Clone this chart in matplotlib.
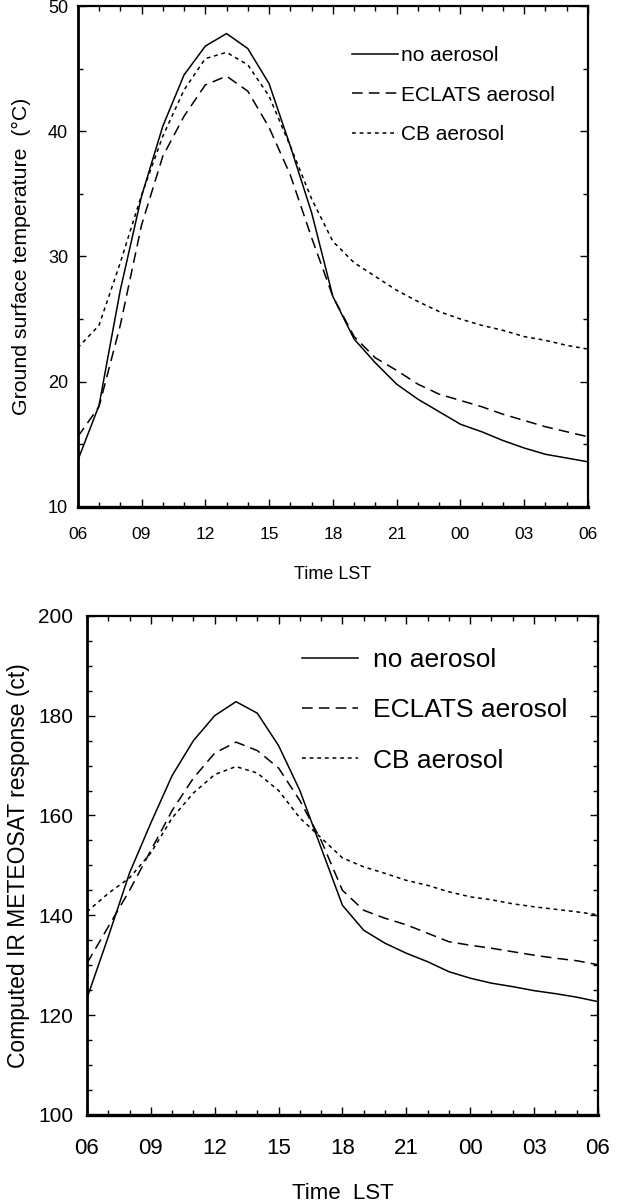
import matplotlib
matplotlib.use("Agg")
import matplotlib.pyplot as plt
from matplotlib.ticker import MultipleLocator, FixedLocator

# ---- data ----
hours = list(range(0, 25))  # hours since 06 LST
xtick_pos = [0, 3, 6, 9, 12, 15, 18, 21, 24]
xtick_labels = ["06", "09", "12", "15", "18", "21", "00", "03", "06"]
series_names = ["no aerosol", "ECLATS aerosol", "CB aerosol"]

tg_no = [13.7, 18.1, 27.3, 34.8, 40.4, 44.5, 46.8, 47.8, 46.6, 43.8, 38.8, 33.5, 26.8,
         23.4, 21.5, 19.8, 18.6, 17.6, 16.6, 16.0, 15.3, 14.7, 14.2, 13.9, 13.6]
tg_eclats = [15.6, 18.0, 24.5, 32.5, 38.0, 41.2, 43.7, 44.4, 43.2, 40.3, 36.5, 31.5, 26.8,
             23.6, 21.9, 20.9, 19.8, 19.0, 18.5, 18.0, 17.4, 16.9, 16.4, 16.0, 15.6]
tg_cb = [22.7, 24.5, 29.5, 34.9, 39.6, 43.3, 45.8, 46.3, 45.3, 42.8, 38.8, 34.6, 31.2,
         29.5, 28.4, 27.3, 26.4, 25.6, 25.0, 24.5, 24.1, 23.6, 23.3, 22.9, 22.6]

ir_no = [123.4, 135.7, 148.5, 158.5, 168.0, 175.0, 180.0, 182.8, 180.5, 174.0, 165.0, 153.5, 142.0,
         137.0, 134.4, 132.4, 130.7, 128.7, 127.4, 126.4, 125.7, 124.9, 124.3, 123.6, 122.7]
ir_eclats = [130.4, 137.7, 145.0, 153.0, 161.0, 167.5, 172.5, 174.7, 173.0, 169.5, 163.0, 155.0, 145.0,
             141.0, 139.4, 138.1, 136.4, 134.7, 134.0, 133.4, 132.7, 132.0, 131.4, 130.9, 130.1]
ir_cb = [140.7, 144.4, 147.5, 152.5, 159.5, 164.5, 168.2, 169.8, 168.5, 165.0, 159.5, 155.5, 151.5,
         149.7, 148.4, 147.0, 146.0, 144.7, 143.7, 143.1, 142.3, 141.7, 141.2, 140.7, 140.1]

FONT = ["Liberation Sans", "DejaVu Sans"]
plt.rcParams["font.family"] = FONT

styles = [dict(ls="-"), dict(ls=(0, (7, 4))), dict(ls=(0, (2.5, 2.5)))]

fig = plt.figure(figsize=(6.17, 12.04), dpi=100)

def style_axes(ax, ymaj, ymin, xt_size, yt_size):
    ax.set_xlim(0, 24)
    ax.xaxis.set_major_locator(FixedLocator(xtick_pos))
    ax.set_xticklabels(xtick_labels, fontsize=xt_size)
    ax.xaxis.set_minor_locator(MultipleLocator(1))
    ax.yaxis.set_major_locator(MultipleLocator(ymaj))
    ax.yaxis.set_minor_locator(MultipleLocator(ymin))
    for lbl in ax.get_yticklabels():
        lbl.set_fontsize(yt_size)
    ax.tick_params(which="both", direction="in", top=True, right=True, width=1.0)
    ax.tick_params(which="major", length=6)
    ax.tick_params(which="minor", length=3.5)
    for s in ax.spines.values():
        s.set_linewidth(1.6)
    ax.spines["bottom"].set_linewidth(2.4)
    ax.spines["left"].set_linewidth(2.0)

# ---- top panel ----
ax1 = fig.add_axes([0.126, 0.579, 0.827, 0.416])
for ys, name, st in zip([tg_no, tg_eclats, tg_cb], series_names, styles):
    ax1.plot(hours, ys, color="black", lw=1.1, label=name, **st)
ax1.set_ylim(10, 50)
style_axes(ax1, 10, 5, 12.5, 13)
ax1.tick_params(axis="x", which="major", pad=14.5)
ax1.tick_params(axis="y", which="major", pad=7)
ax1.set_xlabel("Time LST", fontsize=13, labelpad=17)
ax1.set_ylabel("Ground surface temperature  (°C)", fontsize=15.3, labelpad=12)
ax1.legend(loc="upper left", frameon=False, fontsize=15, borderpad=0, borderaxespad=0,
           handlelength=2.2, handletextpad=0.15, labelspacing=0.99,
           bbox_to_anchor=(0.538, 0.92))

# ---- bottom panel ----
ax2 = fig.add_axes([0.141, 0.074, 0.828, 0.4145])
for ys, name, st in zip([ir_no, ir_eclats, ir_cb], series_names, styles):
    ax2.plot(hours, ys, color="black", lw=1.1, label=name, solid_joinstyle="round", **st)
ax2.set_ylim(100, 200)
style_axes(ax2, 20, 5, 16, 15)
ax2.tick_params(axis="x", which="major", pad=16.5)
ax2.tick_params(axis="y", which="major", pad=10)
ax2.set_xlabel("Time  LST", fontsize=16, labelpad=17.5)
ax2.set_ylabel("Computed IR METEOSAT response (ct)", fontsize=16.5, labelpad=6)
ax2.legend(loc="upper right", frameon=False, fontsize=19, borderpad=0, borderaxespad=0,
           handlelength=2.1, handletextpad=0.6, labelspacing=1.0,
           bbox_to_anchor=(0.941, 0.936))

fig.savefig("out.png", dpi=100)
